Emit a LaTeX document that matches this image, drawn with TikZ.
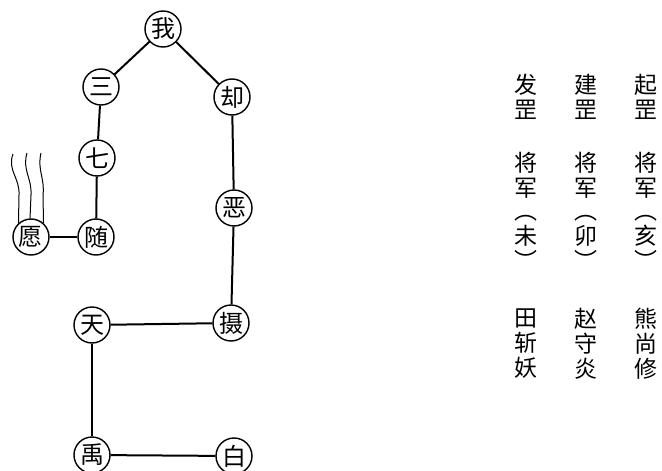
\documentclass[tikz,border=0pt]{standalone}
\usepackage{fontspec}
\newfontfamily\cjk{Noto Sans CJK SC}
\usepackage{tikz}

\begin{document}
\begin{tikzpicture}[x=1pt,y=-1pt,
    wei/.style={circle,draw,line width=1.4pt,minimum size=36pt,inner sep=0pt,
      font=\cjk\fontsize{24}{24}\selectfont},
    zi/.style={align=center,inner sep=0pt,font=\cjk\fontsize{23}{25}\selectfont},
    lian/.style={line width=2pt},
    yan/.style={line width=1pt}]
    \useasboundingbox (0,0) rectangle (662,471);
    % the path
    \node[wei] (wo)   at (163,29)  {我};
    \node[wei] (san)  at (101,87)  {三};
    \node[wei] (que)  at (232,97)  {却};
    \node[wei] (qi)   at (97,158)  {七};
    \node[wei] (e)    at (234,208) {恶};
    \node[wei] (sui)  at (96,237)  {随};
    \node[wei] (yuan) at (31,237)  {愿};
    \node[wei] (she)  at (231,323) {摄};
    \node[wei] (tian) at (92,325)  {天};
    \node[wei] (yu)   at (92,455)  {禹};
    \node[wei] (bai)  at (234,456) {白};
    \path[lian]
    (wo) edge (san)
    (wo) edge (que)
    (san) edge (qi)
    (qi) edge (sui)
    (sui) edge (yuan)
    (que) edge (e)
    (e) edge (she)
    (she) edge (tian)
    (tian) edge (yu)
    (yu) edge (bai);
    % smoke over 愿
    \coordinate (y1) at (13,154);
    \coordinate (y2) at (27,153);
    \coordinate (y3) at (41,153);
    \draw[yan] (y1) .. controls (7,170) and (20,178) .. (19,195) -- (yuan.132);
    \draw[yan] (y2) .. controls (22,170) and (32,178) .. (31,195) -- (yuan.93);
    \draw[yan] (y3) .. controls (37,170) and (45,178) .. (43,195) -- (yuan.48);
    % vertical text
    \foreach \x/\a/\b/\c/\d/\e in {526/发/未/田/斩/妖, 586/建/卯/赵/守/炎, 646/起/亥/熊/尚/修}{
      \node[zi] (hao\x)  at (\x,97)  {\a\\罡};
      \node[zi] (jun\x)  at (\x,175) {将\\军};
      \node[zi] (zhi\x)  at (\x,242) {︵\\\b\\︶};
      \node[zi] (ming\x) at (\x,344) {\c\\\d\\\e};
    }
\end{tikzpicture}
\end{document}
